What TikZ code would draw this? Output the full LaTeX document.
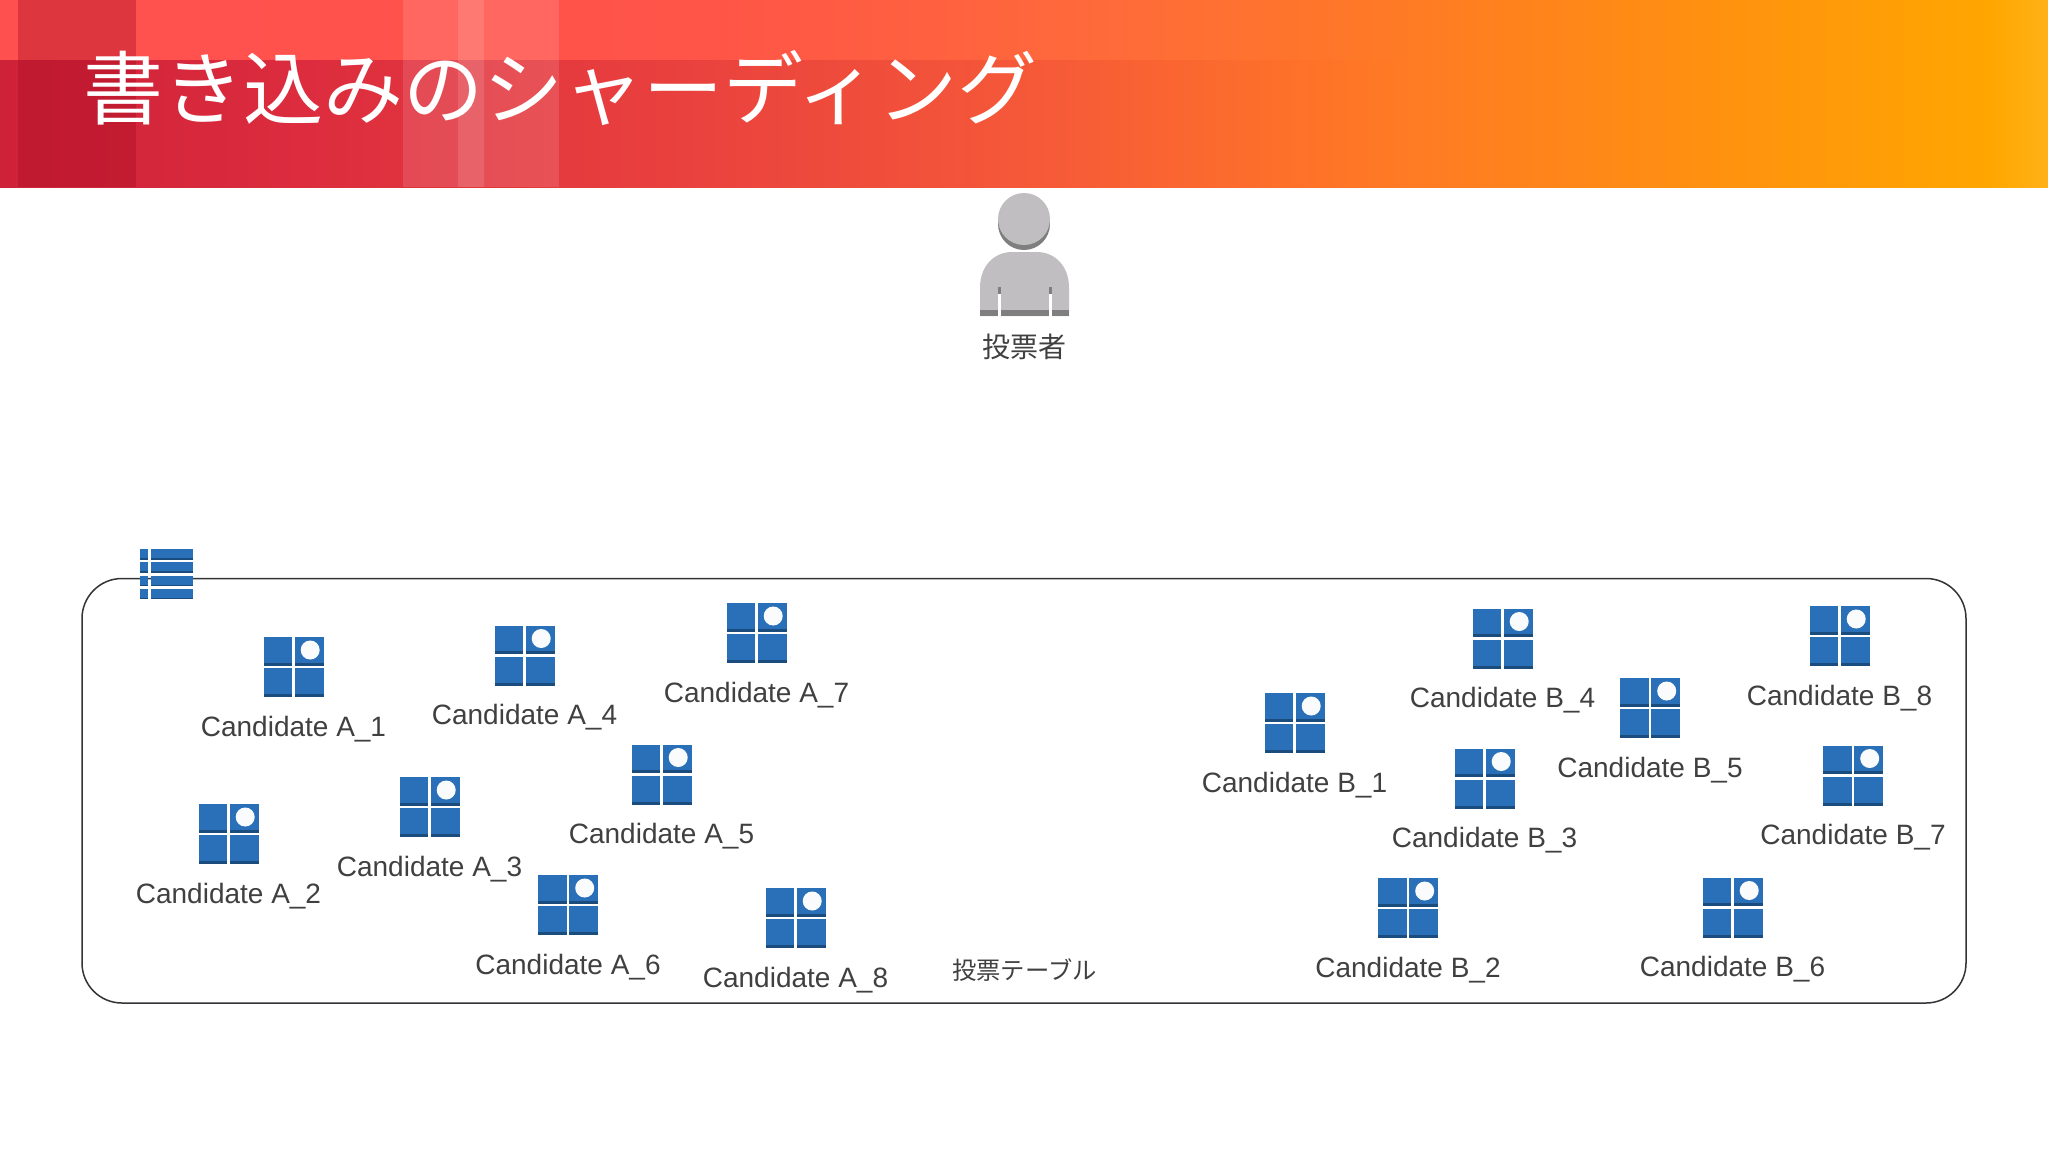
\documentclass[tikz,border=0pt]{standalone}
\usepackage{fontspec}
\setmainfont{Liberation Sans}
\newfontfamily\jpfont{Noto Sans CJK JP}
\definecolor{tileblue}{HTML}{2A70B8}
\definecolor{tiledark}{HTML}{1A4C7E}
\definecolor{inktext}{HTML}{404040}
\definecolor{persongray}{HTML}{C0BEC0}
\definecolor{persondark}{HTML}{7F7F7F}
\definecolor{frameline}{HTML}{333338}
\definecolor{bandred}{HTML}{A80C24}
\tikzset{
  x=1pt,y=-1pt,
  cand/.style={text=inktext,font=\fontsize{28}{30}\selectfont,inner sep=0pt,anchor=center},
  jplabel/.style={text=inktext,inner sep=0pt,anchor=center},
  tile/.pic={
    \fill[tileblue] (-14.3,-14.3) rectangle (14.3,14.3);
    \fill[tiledark] (-14.3,11.3) rectangle (14.3,14.3);
  },
  shardicon/.pic={
    \pic at (-15.7,-15.7) {tile};
    \pic at (15.7,-15.7) {tile};
    \pic at (-15.7,15.7) {tile};
    \pic at (15.7,15.7) {tile};
    \fill[white!97!tileblue] (16.7,-17) circle (9.5);
  },
  rowstrip/.pic={
    \fill[tileblue] (0,0) rectangle (8,10.5);
    \fill[tiledark] (0,9) rectangle (8,10.5);
    \fill[tileblue] (11,0) rectangle (53,10.5);
    \fill[tiledark] (11,9) rectangle (53,10.5);
  },
}
\newcommand{\gradseg}[6]{\fill[left color=#5,right color=#6] (#1,#3) rectangle (#2+0.6,#4);}
\newcommand{\candidate}[4]{%
  \pic at (#3,#4) {shardicon};
  \node[cand] (#1) at (#3,#4+62) {Candidate #2};
}
\begin{document}
\begin{tikzpicture}
\useasboundingbox (0,0) rectangle (2048,1152);
\fill[white] (0,0) rectangle (2048,1152);
% header, upper band
\definecolor{ua}{HTML}{FF5050}\definecolor{ub}{HTML}{FF5448}\definecolor{uc}{HTML}{FF6A3A}
\definecolor{ud}{HTML}{FF7A25}\definecolor{ue}{HTML}{FF9010}\definecolor{uf}{HTML}{FFA600}\definecolor{ug}{HTML}{FFB218}
\gradseg{0}{700}{0}{60}{ua}{ub}
\gradseg{700}{1100}{0}{60}{ub}{uc}
\gradseg{1100}{1400}{0}{60}{uc}{ud}
\gradseg{1400}{1700}{0}{60}{ud}{ue}
\gradseg{1700}{1990}{0}{60}{ue}{uf}
\gradseg{1990}{2048}{0}{60}{uf}{ug}
% header, lower band
\definecolor{la}{HTML}{CE2238}\definecolor{lb}{HTML}{DC2C3E}\definecolor{lc}{HTML}{EA423E}
\definecolor{ld}{HTML}{F65A38}\definecolor{le}{HTML}{FF7626}
\gradseg{0}{300}{60}{187}{la}{lb}
\gradseg{300}{700}{60}{187}{lb}{lc}
\gradseg{700}{1050}{60}{187}{lc}{ld}
\gradseg{1050}{1350}{60}{187}{ld}{le}
\gradseg{1350}{1400}{60}{187}{le}{ud}
\gradseg{1400}{1700}{60}{187}{ud}{ue}
\gradseg{1700}{1990}{60}{187}{ue}{uf}
\gradseg{1990}{2048}{60}{187}{uf}{ug}
% translucent vertical bands
\fill[bandred,opacity=.38] (18,0) rectangle (136,187);
\fill[white,opacity=.12] (403,0) rectangle (559,187);
\fill[white,opacity=.12] (458,0) rectangle (484,187);
\node[text=white,inner sep=0pt,anchor=west,font=\jpfont\fontsize{80}{84}\selectfont] (title) at (83,88) {書き込みのシャーディング};
% voter
\fill[persondark] (1024,224) circle (26);
\fill[persongray] (1024,219) circle (26);
\fill[persongray] (980,316) -- (980,288) .. controls (980,264) and (996,252) .. (1012,252) -- (1037,252) .. controls (1053,252) and (1069,264) .. (1069,288) -- (1069,316) -- cycle;
\fill[persondark] (980,310) rectangle (1069,316);
\fill[persondark] (997.5,287) rectangle (1000.5,294);
\fill[persondark] (1048.5,287) rectangle (1051.5,294);
\fill[white] (997.5,294) rectangle (1000.5,317);
\fill[white] (1048.5,294) rectangle (1051.5,317);
\node[jplabel,font=\jpfont\fontsize{28}{30}\selectfont] (voter) at (1024.5,347) {投票者};
% table frame
\draw[frameline,line width=1.5pt,rounded corners=40pt] (82,578.5) rectangle (1966,1003);
\node[jplabel,font=\jpfont\fontsize{24.3}{28}\selectfont] (tablelabel) at (1024.5,970) {投票テーブル};
% table icon
\pic at (139.5,549) {rowstrip};
\pic at (139.5,562) {rowstrip};
\pic at (139.5,575.5) {rowstrip};
\pic at (139.5,588.5) {rowstrip};
% candidates
\candidate{a1}{A\_1}{293.5}{667}
\candidate{a2}{A\_2}{228.5}{834}
\candidate{a3}{A\_3}{429.5}{807}
\candidate{a4}{A\_4}{524.5}{655.5}
\candidate{a5}{A\_5}{661.5}{774.5}
\candidate{a6}{A\_6}{568}{905}
\candidate{a7}{A\_7}{756.5}{633}
\candidate{a8}{A\_8}{795.5}{918}
\candidate{b1}{B\_1}{1294.5}{723}
\candidate{b2}{B\_2}{1408}{908}
\candidate{b3}{B\_3}{1484.5}{778.5}
\candidate{b4}{B\_4}{1502.5}{638.5}
\candidate{b5}{B\_5}{1650}{708}
\candidate{b6}{B\_6}{1732.5}{907.5}
\candidate{b7}{B\_7}{1853}{775.5}
\candidate{b8}{B\_8}{1839.5}{636}
\end{tikzpicture}
\end{document}
